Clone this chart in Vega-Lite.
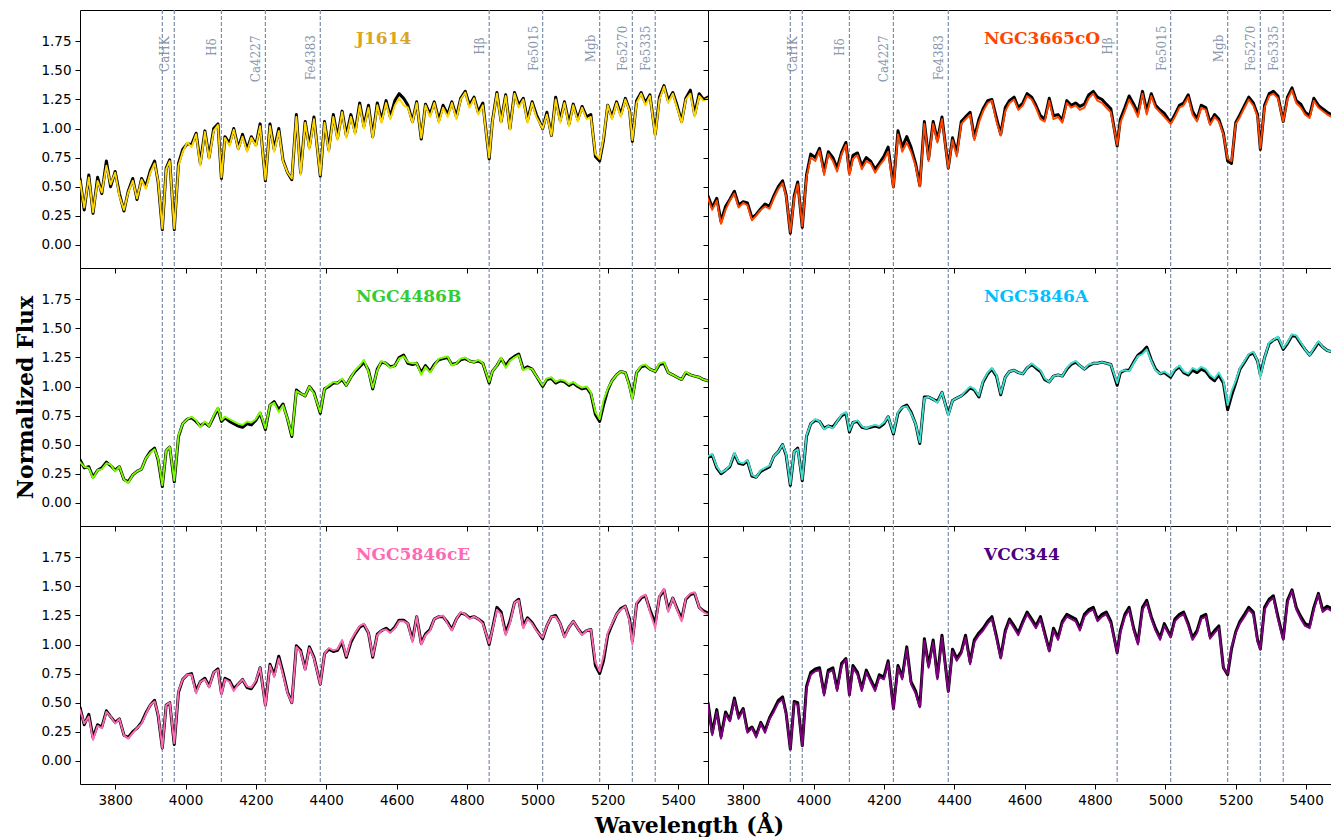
{
  "$schema": "https://vega.github.io/schema/vega-lite/v6.json",
  "background": "white",
  "padding": {"left": 13, "top": 8, "right": 0, "bottom": 0},
  "spacing": 0,
  "bounds": "flush",
  "columns": 2,
  "datasets": {
    "lines": [
      {"w": 3934, "label": "", "level": null},
      {"w": 3968, "label": "CaHK", "level": 1.64},
      {"w": 4102, "label": "Hδ", "level": 1.70},
      {"w": 4227, "label": "Ca4227", "level": 1.60},
      {"w": 4383, "label": "Fe4383", "level": 1.61},
      {"w": 4863, "label": "Hβ", "level": 1.71},
      {"w": 5015, "label": "Fe5015", "level": 1.69},
      {"w": 5177, "label": "Mgb", "level": 1.69},
      {"w": 5270, "label": "Fe5270", "level": 1.69},
      {"w": 5335, "label": "Fe5335", "level": 1.69}
    ],
    "spec": [
      {"w":3700,"j":0.55,"jb":0.57,"n":0.40,"nb":0.42,"g":0.35,"gb":0.37,"a":0.40,"ab":0.39,"e":0.44,"eb":0.46,"v":0.48,"vb":0.50},
      {"w":3712,"j":0.32,"jb":0.30,"n":0.30,"nb":0.32,"g":0.31,"gb":0.30,"a":0.42,"ab":0.41,"e":0.32,"eb":0.31,"v":0.22,"vb":0.24},
      {"w":3725,"j":0.58,"jb":0.60,"n":0.38,"nb":0.40,"g":0.30,"gb":0.31,"a":0.31,"ab":0.30,"e":0.38,"eb":0.40,"v":0.42,"vb":0.44},
      {"w":3737,"j":0.28,"jb":0.27,"n":0.18,"nb":0.20,"g":0.21,"gb":0.22,"a":0.26,"ab":0.25,"e":0.18,"eb":0.20,"v":0.19,"vb":0.21},
      {"w":3750,"j":0.55,"jb":0.58,"n":0.30,"nb":0.33,"g":0.28,"gb":0.28,"a":0.28,"ab":0.28,"e":0.30,"eb":0.31,"v":0.40,"vb":0.42},
      {"w":3762,"j":0.45,"jb":0.44,"n":0.38,"nb":0.39,"g":0.29,"gb":0.30,"a":0.32,"ab":0.31,"e":0.28,"eb":0.29,"v":0.34,"vb":0.35},
      {"w":3775,"j":0.68,"jb":0.72,"n":0.44,"nb":0.46,"g":0.34,"gb":0.35,"a":0.43,"ab":0.42,"e":0.42,"eb":0.43,"v":0.52,"vb":0.54},
      {"w":3787,"j":0.52,"jb":0.50,"n":0.32,"nb":0.34,"g":0.33,"gb":0.32,"a":0.35,"ab":0.34,"e":0.38,"eb":0.38,"v":0.36,"vb":0.38},
      {"w":3800,"j":0.62,"jb":0.63,"n":0.36,"nb":0.37,"g":0.27,"gb":0.28,"a":0.34,"ab":0.33,"e":0.32,"eb":0.33,"v":0.44,"vb":0.45},
      {"w":3812,"j":0.42,"jb":0.44,"n":0.34,"nb":0.36,"g":0.31,"gb":0.31,"a":0.37,"ab":0.36,"e":0.36,"eb":0.36,"v":0.24,"vb":0.26},
      {"w":3825,"j":0.30,"jb":0.29,"n":0.21,"nb":0.23,"g":0.20,"gb":0.20,"a":0.24,"ab":0.23,"e":0.22,"eb":0.22,"v":0.28,"vb":0.29},
      {"w":3837,"j":0.45,"jb":0.46,"n":0.25,"nb":0.26,"g":0.17,"gb":0.18,"a":0.22,"ab":0.22,"e":0.19,"eb":0.20,"v":0.20,"vb":0.22},
      {"w":3850,"j":0.55,"jb":0.57,"n":0.30,"nb":0.31,"g":0.24,"gb":0.24,"a":0.28,"ab":0.27,"e":0.24,"eb":0.25,"v":0.32,"vb":0.33},
      {"w":3862,"j":0.40,"jb":0.39,"n":0.33,"nb":0.35,"g":0.27,"gb":0.27,"a":0.30,"ab":0.29,"e":0.28,"eb":0.28,"v":0.24,"vb":0.26},
      {"w":3875,"j":0.56,"jb":0.57,"n":0.31,"nb":0.33,"g":0.29,"gb":0.29,"a":0.32,"ab":0.31,"e":0.32,"eb":0.33,"v":0.36,"vb":0.37},
      {"w":3887,"j":0.48,"jb":0.50,"n":0.40,"nb":0.42,"g":0.38,"gb":0.38,"a":0.40,"ab":0.40,"e":0.40,"eb":0.41,"v":0.42,"vb":0.44},
      {"w":3900,"j":0.62,"jb":0.64,"n":0.48,"nb":0.50,"g":0.43,"gb":0.44,"a":0.44,"ab":0.44,"e":0.48,"eb":0.48,"v":0.50,"vb":0.52},
      {"w":3912,"j":0.70,"jb":0.72,"n":0.53,"nb":0.55,"g":0.46,"gb":0.47,"a":0.50,"ab":0.50,"e":0.51,"eb":0.52,"v":0.53,"vb":0.55},
      {"w":3922,"j":0.55,"jb":0.54,"n":0.42,"nb":0.43,"g":0.38,"gb":0.37,"a":0.42,"ab":0.41,"e":0.40,"eb":0.39,"v":0.40,"vb":0.41},
      {"w":3934,"j":0.14,"jb":0.13,"n":0.11,"nb":0.10,"g":0.15,"gb":0.14,"a":0.16,"ab":0.15,"e":0.11,"eb":0.11,"v":0.10,"vb":0.10},
      {"w":3945,"j":0.65,"jb":0.66,"n":0.40,"nb":0.42,"g":0.45,"gb":0.45,"a":0.44,"ab":0.44,"e":0.48,"eb":0.48,"v":0.50,"vb":0.51},
      {"w":3955,"j":0.72,"jb":0.73,"n":0.52,"nb":0.54,"g":0.48,"gb":0.48,"a":0.46,"ab":0.47,"e":0.50,"eb":0.50,"v":0.48,"vb":0.50},
      {"w":3968,"j":0.14,"jb":0.13,"n":0.16,"nb":0.15,"g":0.19,"gb":0.18,"a":0.20,"ab":0.19,"e":0.15,"eb":0.14,"v":0.13,"vb":0.13},
      {"w":3980,"j":0.68,"jb":0.70,"n":0.58,"nb":0.60,"g":0.58,"gb":0.57,"a":0.58,"ab":0.57,"e":0.60,"eb":0.59,"v":0.62,"vb":0.64},
      {"w":3992,"j":0.80,"jb":0.82,"n":0.75,"nb":0.78,"g":0.68,"gb":0.68,"a":0.68,"ab":0.68,"e":0.70,"eb":0.70,"v":0.74,"vb":0.76},
      {"w":4005,"j":0.88,"jb":0.87,"n":0.72,"nb":0.75,"g":0.72,"gb":0.72,"a":0.72,"ab":0.71,"e":0.74,"eb":0.74,"v":0.77,"vb":0.79},
      {"w":4017,"j":0.84,"jb":0.86,"n":0.81,"nb":0.83,"g":0.74,"gb":0.73,"a":0.70,"ab":0.70,"e":0.74,"eb":0.75,"v":0.78,"vb":0.80},
      {"w":4030,"j":0.95,"jb":0.96,"n":0.60,"nb":0.63,"g":0.71,"gb":0.70,"a":0.63,"ab":0.64,"e":0.58,"eb":0.60,"v":0.56,"vb":0.58},
      {"w":4042,"j":0.68,"jb":0.70,"n":0.78,"nb":0.80,"g":0.65,"gb":0.66,"a":0.66,"ab":0.66,"e":0.68,"eb":0.68,"v":0.76,"vb":0.78},
      {"w":4055,"j":0.97,"jb":0.98,"n":0.72,"nb":0.75,"g":0.70,"gb":0.69,"a":0.64,"ab":0.65,"e":0.70,"eb":0.71,"v":0.78,"vb":0.80},
      {"w":4067,"j":0.74,"jb":0.75,"n":0.63,"nb":0.66,"g":0.66,"gb":0.66,"a":0.70,"ab":0.70,"e":0.63,"eb":0.64,"v":0.60,"vb":0.62},
      {"w":4080,"j":0.98,"jb":1.00,"n":0.78,"nb":0.80,"g":0.75,"gb":0.74,"a":0.76,"ab":0.75,"e":0.76,"eb":0.76,"v":0.82,"vb":0.84},
      {"w":4092,"j":1.03,"jb":1.04,"n":0.86,"nb":0.88,"g":0.82,"gb":0.81,"a":0.78,"ab":0.77,"e":0.78,"eb":0.79,"v":0.87,"vb":0.88},
      {"w":4102,"j":0.58,"jb":0.57,"n":0.60,"nb":0.62,"g":0.71,"gb":0.70,"a":0.62,"ab":0.61,"e":0.57,"eb":0.58,"v":0.56,"vb":0.57},
      {"w":4112,"j":0.92,"jb":0.93,"n":0.74,"nb":0.77,"g":0.74,"gb":0.73,"a":0.69,"ab":0.69,"e":0.70,"eb":0.71,"v":0.80,"vb":0.82},
      {"w":4125,"j":0.85,"jb":0.87,"n":0.77,"nb":0.79,"g":0.72,"gb":0.70,"a":0.71,"ab":0.70,"e":0.68,"eb":0.69,"v":0.74,"vb":0.76},
      {"w":4137,"j":0.99,"jb":1.00,"n":0.65,"nb":0.68,"g":0.70,"gb":0.68,"a":0.66,"ab":0.65,"e":0.60,"eb":0.62,"v":0.60,"vb":0.62},
      {"w":4150,"j":0.82,"jb":0.83,"n":0.72,"nb":0.75,"g":0.68,"gb":0.66,"a":0.64,"ab":0.64,"e":0.66,"eb":0.66,"v":0.76,"vb":0.78},
      {"w":4162,"j":0.93,"jb":0.95,"n":0.70,"nb":0.72,"g":0.67,"gb":0.65,"a":0.66,"ab":0.65,"e":0.70,"eb":0.70,"v":0.68,"vb":0.70},
      {"w":4175,"j":0.80,"jb":0.82,"n":0.62,"nb":0.65,"g":0.70,"gb":0.68,"a":0.67,"ab":0.66,"e":0.64,"eb":0.63,"v":0.60,"vb":0.62},
      {"w":4187,"j":0.92,"jb":0.93,"n":0.68,"nb":0.70,"g":0.69,"gb":0.67,"a":0.66,"ab":0.65,"e":0.63,"eb":0.62,"v":0.72,"vb":0.74},
      {"w":4200,"j":0.85,"jb":0.86,"n":0.73,"nb":0.76,"g":0.72,"gb":0.71,"a":0.69,"ab":0.68,"e":0.69,"eb":0.68,"v":0.70,"vb":0.72},
      {"w":4212,"j":1.02,"jb":1.04,"n":0.80,"nb":0.84,"g":0.78,"gb":0.77,"a":0.74,"ab":0.74,"e":0.80,"eb":0.80,"v":0.84,"vb":0.86},
      {"w":4227,"j":0.56,"jb":0.55,"n":0.49,"nb":0.50,"g":0.64,"gb":0.63,"a":0.60,"ab":0.59,"e":0.47,"eb":0.48,"v":0.44,"vb":0.45},
      {"w":4240,"j":1.02,"jb":1.04,"n":0.95,"nb":0.98,"g":0.84,"gb":0.84,"a":0.78,"ab":0.77,"e":0.82,"eb":0.83,"v":0.80,"vb":0.82},
      {"w":4252,"j":0.80,"jb":0.82,"n":0.80,"nb":0.84,"g":0.86,"gb":0.87,"a":0.82,"ab":0.82,"e":0.72,"eb":0.74,"v":0.70,"vb":0.72},
      {"w":4265,"j":0.98,"jb":1.00,"n":0.88,"nb":0.93,"g":0.78,"gb":0.80,"a":0.83,"ab":0.84,"e":0.88,"eb":0.90,"v":0.96,"vb":0.98},
      {"w":4277,"j":0.72,"jb":0.73,"n":0.80,"nb":0.84,"g":0.84,"gb":0.85,"a":0.77,"ab":0.78,"e":0.74,"eb":0.76,"v":0.66,"vb":0.68},
      {"w":4290,"j":0.62,"jb":0.62,"n":0.68,"nb":0.70,"g":0.72,"gb":0.72,"a":0.68,"ab":0.68,"e":0.58,"eb":0.59,"v":0.58,"vb":0.60},
      {"w":4302,"j":0.57,"jb":0.56,"n":0.50,"nb":0.51,"g":0.58,"gb":0.57,"a":0.52,"ab":0.51,"e":0.50,"eb":0.50,"v":0.46,"vb":0.47},
      {"w":4315,"j":1.10,"jb":1.12,"n":1.04,"nb":1.06,"g":0.96,"gb":0.97,"a":0.90,"ab":0.91,"e":0.98,"eb":0.99,"v":1.03,"vb":1.05},
      {"w":4327,"j":0.60,"jb":0.62,"n":0.72,"nb":0.74,"g":0.94,"gb":0.94,"a":0.91,"ab":0.91,"e":0.94,"eb":0.95,"v":0.80,"vb":0.82},
      {"w":4340,"j":1.05,"jb":1.06,"n":1.04,"nb":1.06,"g":0.92,"gb":0.92,"a":0.89,"ab":0.89,"e":0.78,"eb":0.79,"v":1.02,"vb":1.04},
      {"w":4352,"j":0.82,"jb":0.84,"n":0.88,"nb":0.90,"g":1.00,"gb":1.00,"a":0.86,"ab":0.87,"e":0.97,"eb":0.98,"v":0.70,"vb":0.72},
      {"w":4365,"j":1.08,"jb":1.10,"n":1.08,"nb":1.10,"g":0.94,"gb":0.95,"a":0.95,"ab":0.95,"e":0.88,"eb":0.89,"v":1.06,"vb":1.08},
      {"w":4383,"j":0.60,"jb":0.59,"n":0.66,"nb":0.66,"g":0.78,"gb":0.77,"a":0.75,"ab":0.76,"e":0.66,"eb":0.66,"v":0.59,"vb":0.60},
      {"w":4395,"j":1.05,"jb":1.06,"n":0.90,"nb":0.92,"g":0.98,"gb":0.98,"a":0.88,"ab":0.88,"e":0.92,"eb":0.92,"v":0.94,"vb":0.96},
      {"w":4407,"j":0.80,"jb":0.82,"n":0.76,"nb":0.79,"g":1.01,"gb":1.00,"a":0.90,"ab":0.90,"e":0.97,"eb":0.96,"v":0.86,"vb":0.88},
      {"w":4420,"j":1.10,"jb":1.12,"n":1.04,"nb":1.06,"g":1.04,"gb":1.03,"a":0.92,"ab":0.92,"e":0.95,"eb":0.94,"v":0.92,"vb":0.94},
      {"w":4432,"j":0.90,"jb":0.92,"n":1.08,"nb":1.10,"g":1.03,"gb":1.03,"a":0.96,"ab":0.95,"e":0.96,"eb":0.95,"v":1.06,"vb":1.08},
      {"w":4445,"j":1.14,"jb":1.15,"n":1.12,"nb":1.14,"g":1.07,"gb":1.06,"a":1.00,"ab":0.99,"e":1.04,"eb":1.02,"v":0.83,"vb":0.85},
      {"w":4457,"j":0.92,"jb":0.94,"n":0.90,"nb":0.92,"g":1.01,"gb":1.01,"a":0.98,"ab":0.97,"e":0.90,"eb":0.89,"v":1.02,"vb":1.04},
      {"w":4470,"j":1.10,"jb":1.12,"n":1.05,"nb":1.08,"g":1.08,"gb":1.08,"a":0.92,"ab":0.91,"e":1.04,"eb":1.02,"v":1.08,"vb":1.10},
      {"w":4482,"j":0.95,"jb":0.97,"n":1.15,"nb":1.17,"g":1.14,"gb":1.13,"a":1.05,"ab":1.04,"e":1.10,"eb":1.09,"v":1.12,"vb":1.14},
      {"w":4495,"j":1.20,"jb":1.22,"n":1.22,"nb":1.24,"g":1.18,"gb":1.17,"a":1.12,"ab":1.11,"e":1.16,"eb":1.15,"v":1.18,"vb":1.20},
      {"w":4507,"j":1.00,"jb":1.02,"n":1.24,"nb":1.25,"g":1.23,"gb":1.21,"a":1.16,"ab":1.15,"e":1.18,"eb":1.17,"v":1.22,"vb":1.24},
      {"w":4520,"j":1.18,"jb":1.20,"n":1.06,"nb":1.09,"g":1.13,"gb":1.14,"a":1.10,"ab":1.09,"e":1.10,"eb":1.10,"v":1.05,"vb":1.07},
      {"w":4532,"j":0.92,"jb":0.93,"n":0.94,"nb":0.95,"g":0.99,"gb":0.98,"a":0.94,"ab":0.93,"e":0.90,"eb":0.89,"v":0.88,"vb":0.89},
      {"w":4545,"j":1.20,"jb":1.22,"n":1.15,"nb":1.18,"g":1.14,"gb":1.15,"a":1.08,"ab":1.08,"e":1.08,"eb":1.09,"v":1.10,"vb":1.12},
      {"w":4557,"j":1.05,"jb":1.07,"n":1.22,"nb":1.24,"g":1.22,"gb":1.21,"a":1.13,"ab":1.13,"e":1.12,"eb":1.12,"v":1.20,"vb":1.22},
      {"w":4570,"j":1.22,"jb":1.24,"n":1.25,"nb":1.27,"g":1.20,"gb":1.20,"a":1.14,"ab":1.14,"e":1.13,"eb":1.14,"v":1.14,"vb":1.16},
      {"w":4582,"j":1.08,"jb":1.10,"n":1.16,"nb":1.18,"g":1.16,"gb":1.17,"a":1.12,"ab":1.12,"e":1.10,"eb":1.11,"v":1.08,"vb":1.10},
      {"w":4595,"j":1.20,"jb":1.24,"n":1.20,"nb":1.22,"g":1.18,"gb":1.18,"a":1.11,"ab":1.11,"e":1.14,"eb":1.15,"v":1.18,"vb":1.20},
      {"w":4607,"j":1.26,"jb":1.30,"n":1.28,"nb":1.30,"g":1.24,"gb":1.25,"a":1.16,"ab":1.16,"e":1.20,"eb":1.21,"v":1.26,"vb":1.28},
      {"w":4620,"j":1.20,"jb":1.26,"n":1.25,"nb":1.27,"g":1.26,"gb":1.27,"a":1.20,"ab":1.19,"e":1.20,"eb":1.21,"v":1.20,"vb":1.22},
      {"w":4632,"j":1.18,"jb":1.20,"n":1.18,"nb":1.20,"g":1.21,"gb":1.20,"a":1.17,"ab":1.16,"e":1.18,"eb":1.18,"v":1.14,"vb":1.16},
      {"w":4645,"j":1.05,"jb":1.06,"n":1.08,"nb":1.11,"g":1.20,"gb":1.19,"a":1.14,"ab":1.13,"e":1.02,"eb":1.04,"v":1.22,"vb":1.24},
      {"w":4657,"j":1.22,"jb":1.23,"n":1.06,"nb":1.08,"g":1.20,"gb":1.20,"a":1.07,"ab":1.06,"e":1.24,"eb":1.24,"v":1.08,"vb":1.10},
      {"w":4670,"j":0.92,"jb":0.91,"n":1.24,"nb":1.26,"g":1.10,"gb":1.12,"a":1.04,"ab":1.04,"e":1.00,"eb":1.01,"v":0.94,"vb":0.95},
      {"w":4682,"j":1.20,"jb":1.21,"n":1.08,"nb":1.11,"g":1.17,"gb":1.18,"a":1.09,"ab":1.09,"e":1.08,"eb":1.09,"v":1.12,"vb":1.14},
      {"w":4695,"j":1.10,"jb":1.12,"n":1.10,"nb":1.12,"g":1.12,"gb":1.13,"a":1.10,"ab":1.10,"e":1.12,"eb":1.13,"v":1.04,"vb":1.06},
      {"w":4707,"j":1.22,"jb":1.23,"n":1.05,"nb":1.07,"g":1.18,"gb":1.19,"a":1.09,"ab":1.09,"e":1.22,"eb":1.22,"v":1.18,"vb":1.20},
      {"w":4720,"j":1.05,"jb":1.07,"n":1.22,"nb":1.24,"g":1.24,"gb":1.23,"a":1.16,"ab":1.15,"e":1.24,"eb":1.24,"v":1.24,"vb":1.26},
      {"w":4732,"j":1.18,"jb":1.20,"n":1.18,"nb":1.20,"g":1.25,"gb":1.24,"a":1.20,"ab":1.19,"e":1.25,"eb":1.24,"v":1.22,"vb":1.24},
      {"w":4745,"j":1.10,"jb":1.12,"n":1.20,"nb":1.22,"g":1.26,"gb":1.25,"a":1.22,"ab":1.21,"e":1.18,"eb":1.19,"v":1.20,"vb":1.22},
      {"w":4757,"j":1.22,"jb":1.23,"n":1.16,"nb":1.19,"g":1.18,"gb":1.19,"a":1.18,"ab":1.18,"e":1.12,"eb":1.13,"v":1.12,"vb":1.14},
      {"w":4770,"j":1.08,"jb":1.10,"n":1.18,"nb":1.21,"g":1.20,"gb":1.20,"a":1.15,"ab":1.15,"e":1.22,"eb":1.22,"v":1.24,"vb":1.26},
      {"w":4782,"j":1.25,"jb":1.26,"n":1.26,"nb":1.29,"g":1.24,"gb":1.23,"a":1.19,"ab":1.18,"e":1.28,"eb":1.27,"v":1.28,"vb":1.30},
      {"w":4795,"j":1.31,"jb":1.32,"n":1.30,"nb":1.32,"g":1.25,"gb":1.24,"a":1.20,"ab":1.20,"e":1.26,"eb":1.26,"v":1.30,"vb":1.32},
      {"w":4807,"j":1.18,"jb":1.20,"n":1.24,"nb":1.27,"g":1.22,"gb":1.22,"a":1.20,"ab":1.20,"e":1.22,"eb":1.23,"v":1.20,"vb":1.22},
      {"w":4820,"j":1.26,"jb":1.27,"n":1.22,"nb":1.25,"g":1.21,"gb":1.21,"a":1.21,"ab":1.21,"e":1.24,"eb":1.24,"v":1.24,"vb":1.26},
      {"w":4832,"j":1.12,"jb":1.14,"n":1.18,"nb":1.21,"g":1.23,"gb":1.22,"a":1.20,"ab":1.20,"e":1.22,"eb":1.22,"v":1.26,"vb":1.28},
      {"w":4845,"j":1.20,"jb":1.22,"n":1.14,"nb":1.17,"g":1.20,"gb":1.20,"a":1.19,"ab":1.19,"e":1.18,"eb":1.19,"v":1.18,"vb":1.20},
      {"w":4863,"j":0.75,"jb":0.74,"n":0.86,"nb":0.85,"g":1.04,"gb":1.03,"a":1.03,"ab":1.01,"e":1.01,"eb":1.00,"v":0.93,"vb":0.93},
      {"w":4872,"j":1.05,"jb":1.06,"n":1.05,"nb":1.08,"g":1.13,"gb":1.13,"a":1.13,"ab":1.12,"e":1.12,"eb":1.13,"v":1.10,"vb":1.12},
      {"w":4885,"j":1.30,"jb":1.31,"n":1.15,"nb":1.18,"g":1.18,"gb":1.18,"a":1.14,"ab":1.14,"e":1.30,"eb":1.32,"v":1.24,"vb":1.26},
      {"w":4897,"j":1.05,"jb":1.06,"n":1.25,"nb":1.28,"g":1.25,"gb":1.24,"a":1.13,"ab":1.14,"e":1.26,"eb":1.28,"v":1.30,"vb":1.32},
      {"w":4910,"j":1.28,"jb":1.29,"n":1.18,"nb":1.21,"g":1.16,"gb":1.18,"a":1.20,"ab":1.21,"e":1.08,"eb":1.10,"v":1.12,"vb":1.14},
      {"w":4922,"j":0.99,"jb":1.00,"n":1.10,"nb":1.13,"g":1.22,"gb":1.23,"a":1.26,"ab":1.27,"e":1.18,"eb":1.20,"v":1.00,"vb":1.02},
      {"w":4935,"j":1.30,"jb":1.31,"n":1.30,"nb":1.32,"g":1.25,"gb":1.26,"a":1.28,"ab":1.30,"e":1.36,"eb":1.36,"v":1.30,"vb":1.32},
      {"w":4947,"j":1.18,"jb":1.20,"n":1.12,"nb":1.15,"g":1.27,"gb":1.28,"a":1.32,"ab":1.34,"e":1.38,"eb":1.39,"v":1.36,"vb":1.38},
      {"w":4960,"j":1.25,"jb":1.26,"n":1.28,"nb":1.30,"g":1.14,"gb":1.15,"a":1.22,"ab":1.23,"e":1.14,"eb":1.16,"v":1.22,"vb":1.24},
      {"w":4972,"j":1.05,"jb":1.07,"n":1.18,"nb":1.20,"g":1.16,"gb":1.17,"a":1.14,"ab":1.15,"e":1.22,"eb":1.23,"v":1.12,"vb":1.14},
      {"w":4985,"j":1.22,"jb":1.23,"n":1.14,"nb":1.16,"g":1.15,"gb":1.15,"a":1.11,"ab":1.11,"e":1.18,"eb":1.19,"v":1.04,"vb":1.06},
      {"w":4997,"j":1.10,"jb":1.12,"n":1.10,"nb":1.13,"g":1.09,"gb":1.09,"a":1.13,"ab":1.12,"e":1.12,"eb":1.13,"v":1.16,"vb":1.18},
      {"w":5015,"j":1.00,"jb":1.00,"n":1.04,"nb":1.05,"g":1.01,"gb":1.00,"a":1.09,"ab":1.08,"e":1.06,"eb":1.05,"v":1.06,"vb":1.07},
      {"w":5027,"j":1.12,"jb":1.14,"n":1.10,"nb":1.12,"g":1.07,"gb":1.06,"a":1.15,"ab":1.14,"e":1.16,"eb":1.16,"v":1.20,"vb":1.22},
      {"w":5040,"j":0.94,"jb":0.94,"n":1.18,"nb":1.20,"g":1.08,"gb":1.07,"a":1.18,"ab":1.17,"e":1.24,"eb":1.24,"v":1.24,"vb":1.26},
      {"w":5052,"j":1.25,"jb":1.27,"n":1.20,"nb":1.22,"g":1.04,"gb":1.03,"a":1.13,"ab":1.12,"e":1.24,"eb":1.25,"v":1.26,"vb":1.28},
      {"w":5065,"j":1.05,"jb":1.07,"n":1.27,"nb":1.29,"g":1.06,"gb":1.05,"a":1.11,"ab":1.10,"e":1.18,"eb":1.18,"v":1.16,"vb":1.18},
      {"w":5077,"j":1.22,"jb":1.23,"n":1.12,"nb":1.15,"g":1.05,"gb":1.04,"a":1.16,"ab":1.14,"e":1.06,"eb":1.07,"v":1.04,"vb":1.06},
      {"w":5090,"j":1.02,"jb":1.04,"n":1.06,"nb":1.08,"g":1.02,"gb":1.01,"a":1.14,"ab":1.12,"e":1.15,"eb":1.15,"v":1.10,"vb":1.12},
      {"w":5102,"j":1.20,"jb":1.21,"n":1.18,"nb":1.20,"g":1.04,"gb":1.03,"a":1.17,"ab":1.15,"e":1.20,"eb":1.20,"v":1.22,"vb":1.24},
      {"w":5115,"j":1.06,"jb":1.08,"n":1.16,"nb":1.18,"g":1.01,"gb":1.00,"a":1.15,"ab":1.13,"e":1.14,"eb":1.14,"v":1.24,"vb":1.26},
      {"w":5127,"j":1.18,"jb":1.19,"n":1.03,"nb":1.05,"g":0.99,"gb":0.98,"a":1.10,"ab":1.08,"e":1.08,"eb":1.09,"v":1.05,"vb":1.07},
      {"w":5140,"j":1.08,"jb":1.10,"n":1.10,"nb":1.12,"g":1.00,"gb":0.99,"a":1.07,"ab":1.05,"e":1.12,"eb":1.12,"v":1.10,"vb":1.12},
      {"w":5152,"j":1.10,"jb":1.12,"n":1.06,"nb":1.08,"g":0.95,"gb":0.94,"a":1.12,"ab":1.10,"e":1.13,"eb":1.13,"v":1.14,"vb":1.16},
      {"w":5165,"j":0.78,"jb":0.76,"n":0.95,"nb":0.96,"g":0.78,"gb":0.76,"a":1.05,"ab":1.03,"e":0.85,"eb":0.82,"v":0.80,"vb":0.80},
      {"w":5177,"j":0.74,"jb":0.72,"n":0.74,"nb":0.72,"g":0.72,"gb":0.70,"a":0.84,"ab":0.80,"e":0.77,"eb":0.75,"v":0.75,"vb":0.74},
      {"w":5188,"j":0.92,"jb":0.90,"n":0.72,"nb":0.70,"g":0.88,"gb":0.84,"a":0.96,"ab":0.92,"e":0.90,"eb":0.86,"v":0.98,"vb":0.96},
      {"w":5200,"j":1.20,"jb":1.20,"n":1.04,"nb":1.05,"g":0.98,"gb":0.97,"a":1.05,"ab":1.03,"e":1.10,"eb":1.08,"v":1.10,"vb":1.11},
      {"w":5212,"j":1.08,"jb":1.10,"n":1.10,"nb":1.12,"g":1.05,"gb":1.05,"a":1.16,"ab":1.15,"e":1.18,"eb":1.17,"v":1.18,"vb":1.20},
      {"w":5225,"j":1.22,"jb":1.23,"n":1.18,"nb":1.20,"g":1.10,"gb":1.10,"a":1.22,"ab":1.21,"e":1.26,"eb":1.26,"v":1.24,"vb":1.26},
      {"w":5237,"j":1.10,"jb":1.12,"n":1.25,"nb":1.27,"g":1.13,"gb":1.13,"a":1.28,"ab":1.27,"e":1.30,"eb":1.31,"v":1.30,"vb":1.32},
      {"w":5250,"j":1.25,"jb":1.26,"n":1.20,"nb":1.22,"g":1.12,"gb":1.12,"a":1.30,"ab":1.29,"e":1.33,"eb":1.33,"v":1.26,"vb":1.28},
      {"w":5262,"j":1.15,"jb":1.16,"n":1.10,"nb":1.12,"g":1.00,"gb":1.01,"a":1.22,"ab":1.22,"e":1.20,"eb":1.22,"v":1.02,"vb":1.04},
      {"w":5270,"j":0.90,"jb":0.89,"n":0.83,"nb":0.82,"g":0.89,"gb":0.90,"a":1.08,"ab":1.10,"e":1.00,"eb":1.03,"v":0.96,"vb":0.96},
      {"w":5282,"j":1.22,"jb":1.24,"n":1.18,"nb":1.20,"g":1.12,"gb":1.12,"a":1.25,"ab":1.25,"e":1.36,"eb":1.35,"v":1.30,"vb":1.32},
      {"w":5295,"j":1.30,"jb":1.31,"n":1.28,"nb":1.30,"g":1.18,"gb":1.17,"a":1.38,"ab":1.37,"e":1.41,"eb":1.40,"v":1.37,"vb":1.39},
      {"w":5307,"j":1.20,"jb":1.22,"n":1.30,"nb":1.32,"g":1.19,"gb":1.18,"a":1.40,"ab":1.40,"e":1.43,"eb":1.42,"v":1.40,"vb":1.42},
      {"w":5320,"j":1.28,"jb":1.29,"n":1.26,"nb":1.28,"g":1.15,"gb":1.15,"a":1.43,"ab":1.42,"e":1.28,"eb":1.30,"v":1.22,"vb":1.24},
      {"w":5335,"j":0.94,"jb":0.95,"n":1.06,"nb":1.06,"g":1.13,"gb":1.13,"a":1.33,"ab":1.32,"e":1.14,"eb":1.18,"v":1.04,"vb":1.05},
      {"w":5347,"j":1.25,"jb":1.27,"n":1.25,"nb":1.27,"g":1.20,"gb":1.19,"a":1.38,"ab":1.37,"e":1.42,"eb":1.41,"v":1.36,"vb":1.38},
      {"w":5360,"j":1.36,"jb":1.37,"n":1.33,"nb":1.35,"g":1.21,"gb":1.20,"a":1.45,"ab":1.44,"e":1.48,"eb":1.47,"v":1.46,"vb":1.47},
      {"w":5372,"j":1.22,"jb":1.24,"n":1.22,"nb":1.24,"g":1.12,"gb":1.12,"a":1.44,"ab":1.43,"e":1.28,"eb":1.30,"v":1.30,"vb":1.32},
      {"w":5385,"j":1.30,"jb":1.31,"n":1.18,"nb":1.21,"g":1.10,"gb":1.10,"a":1.38,"ab":1.37,"e":1.40,"eb":1.40,"v":1.22,"vb":1.24},
      {"w":5397,"j":1.18,"jb":1.20,"n":1.12,"nb":1.14,"g":1.08,"gb":1.08,"a":1.32,"ab":1.32,"e":1.30,"eb":1.31,"v":1.16,"vb":1.18},
      {"w":5410,"j":1.05,"jb":1.06,"n":1.09,"nb":1.11,"g":1.06,"gb":1.06,"a":1.27,"ab":1.27,"e":1.20,"eb":1.22,"v":1.14,"vb":1.16},
      {"w":5422,"j":1.25,"jb":1.26,"n":1.24,"nb":1.26,"g":1.13,"gb":1.12,"a":1.33,"ab":1.32,"e":1.40,"eb":1.39,"v":1.30,"vb":1.32},
      {"w":5435,"j":1.30,"jb":1.33,"n":1.18,"nb":1.20,"g":1.10,"gb":1.10,"a":1.39,"ab":1.38,"e":1.44,"eb":1.43,"v":1.43,"vb":1.44},
      {"w":5447,"j":1.10,"jb":1.12,"n":1.15,"nb":1.17,"g":1.09,"gb":1.09,"a":1.34,"ab":1.34,"e":1.45,"eb":1.44,"v":1.28,"vb":1.30},
      {"w":5460,"j":1.28,"jb":1.30,"n":1.12,"nb":1.14,"g":1.08,"gb":1.08,"a":1.31,"ab":1.31,"e":1.32,"eb":1.32,"v":1.31,"vb":1.33},
      {"w":5472,"j":1.24,"jb":1.25,"n":1.10,"nb":1.12,"g":1.06,"gb":1.06,"a":1.30,"ab":1.30,"e":1.28,"eb":1.29,"v":1.29,"vb":1.31},
      {"w":5485,"j":1.26,"jb":1.27,"n":1.08,"nb":1.10,"g":1.05,"gb":1.05,"a":1.29,"ab":1.29,"e":1.26,"eb":1.27,"v":1.30,"vb":1.32}
    ]
  },
  "concat": [
    {
      "width": 628, "height": 258,
      "title": {"text": "J1614", "color": "#DAA520"},
      "encoding": {"x": {"field": "w", "type": "quantitative", "scale": {"domain": [3700, 5485], "nice": false, "zero": false}, "axis": {"values": [3800, 4000, 4200, 4400, 4600, 4800, 5000, 5200, 5400], "labels": false, "title": null}}},
      "layer": [
        {"data": {"name": "lines"}, "mark": {"type": "rule", "color": "#7d8fa8", "strokeWidth": 1.2, "strokeDash": [4, 2]}, "encoding": {}},
        {"data": {"name": "lines"}, "transform": [{"filter": "isValid(datum.level)"}], "mark": {"type": "text", "angle": 270, "align": "center", "baseline": "bottom", "dy": -2, "font": "DejaVu Serif", "fontSize": 12, "color": "#8896ab"}, "encoding": {"y": {"field": "level", "type": "quantitative", "scale": {"domain": [-0.2, 2.02], "nice": false, "zero": false}, "axis": {"values": [0, 0.25, 0.5, 0.75, 1, 1.25, 1.5, 1.75], "format": ".2f", "title": null}}, "text": {"field": "label"}}},
        {"data": {"name": "spec"}, "mark": {"type": "line", "color": "black", "strokeWidth": 3, "clip": true}, "encoding": {"y": {"field": "jb", "type": "quantitative", "scale": {"domain": [-0.2, 2.02], "nice": false, "zero": false}, "axis": {"values": [0, 0.25, 0.5, 0.75, 1, 1.25, 1.5, 1.75], "format": ".2f", "title": null}}}},
        {"data": {"name": "spec"}, "mark": {"type": "line", "color": "#FFD700", "strokeWidth": 1.9, "clip": true}, "encoding": {"y": {"field": "j", "type": "quantitative", "scale": {"domain": [-0.2, 2.02], "nice": false, "zero": false}, "axis": {"values": [0, 0.25, 0.5, 0.75, 1, 1.25, 1.5, 1.75], "format": ".2f", "title": null}}}}
      ]
    },
    {
      "width": 628, "height": 258,
      "title": {"text": "NGC3665cO", "color": "#FF4500"},
      "encoding": {"x": {"field": "w", "type": "quantitative", "scale": {"domain": [3700, 5485], "nice": false, "zero": false}, "axis": {"values": [3800, 4000, 4200, 4400, 4600, 4800, 5000, 5200, 5400], "labels": false, "title": null}}},
      "layer": [
        {"data": {"name": "lines"}, "mark": {"type": "rule", "color": "#7d8fa8", "strokeWidth": 1.2, "strokeDash": [4, 2]}, "encoding": {}},
        {"data": {"name": "lines"}, "transform": [{"filter": "isValid(datum.level)"}], "mark": {"type": "text", "angle": 270, "align": "center", "baseline": "bottom", "dy": -2, "font": "DejaVu Serif", "fontSize": 12, "color": "#8896ab"}, "encoding": {"y": {"field": "level", "type": "quantitative", "scale": {"domain": [-0.2, 2.02], "nice": false, "zero": false}, "axis": {"values": [0, 0.25, 0.5, 0.75, 1, 1.25, 1.5, 1.75], "labels": false, "title": null}}, "text": {"field": "label"}}},
        {"data": {"name": "spec"}, "mark": {"type": "line", "color": "black", "strokeWidth": 3, "clip": true}, "encoding": {"y": {"field": "nb", "type": "quantitative", "scale": {"domain": [-0.2, 2.02], "nice": false, "zero": false}, "axis": {"values": [0, 0.25, 0.5, 0.75, 1, 1.25, 1.5, 1.75], "labels": false, "title": null}}}},
        {"data": {"name": "spec"}, "mark": {"type": "line", "color": "#FF4500", "strokeWidth": 1.9, "clip": true}, "encoding": {"y": {"field": "n", "type": "quantitative", "scale": {"domain": [-0.2, 2.02], "nice": false, "zero": false}, "axis": {"values": [0, 0.25, 0.5, 0.75, 1, 1.25, 1.5, 1.75], "labels": false, "title": null}}}}
      ]
    },
    {
      "width": 628, "height": 258,
      "title": {"text": "NGC4486B", "color": "#32CD32"},
      "encoding": {"x": {"field": "w", "type": "quantitative", "scale": {"domain": [3700, 5485], "nice": false, "zero": false}, "axis": {"values": [3800, 4000, 4200, 4400, 4600, 4800, 5000, 5200, 5400], "labels": false, "title": null}}},
      "layer": [
        {"data": {"name": "lines"}, "mark": {"type": "rule", "color": "#7d8fa8", "strokeWidth": 1.2, "strokeDash": [4, 2]}, "encoding": {}},
        {"data": {"name": "spec"}, "mark": {"type": "line", "color": "black", "strokeWidth": 3, "clip": true}, "encoding": {"y": {"field": "gb", "type": "quantitative", "scale": {"domain": [-0.2, 2.02], "nice": false, "zero": false}, "axis": {"values": [0, 0.25, 0.5, 0.75, 1, 1.25, 1.5, 1.75], "format": ".2f", "title": "Normalized Flux", "titleX": -48, "titleY": 129, "titleAngle": 270, "titleAlign": "center", "titleBaseline": "alphabetic"}}}},
        {"data": {"name": "spec"}, "mark": {"type": "line", "color": "#7CFC00", "strokeWidth": 1.9, "clip": true}, "encoding": {"y": {"field": "g", "type": "quantitative", "scale": {"domain": [-0.2, 2.02], "nice": false, "zero": false}, "axis": {"values": [0, 0.25, 0.5, 0.75, 1, 1.25, 1.5, 1.75], "format": ".2f", "title": "Normalized Flux", "titleX": -48, "titleY": 129, "titleAngle": 270, "titleAlign": "center", "titleBaseline": "alphabetic"}}}}
      ]
    },
    {
      "width": 628, "height": 258,
      "title": {"text": "NGC5846A", "color": "#00BFFF"},
      "encoding": {"x": {"field": "w", "type": "quantitative", "scale": {"domain": [3700, 5485], "nice": false, "zero": false}, "axis": {"values": [3800, 4000, 4200, 4400, 4600, 4800, 5000, 5200, 5400], "labels": false, "title": null}}},
      "layer": [
        {"data": {"name": "lines"}, "mark": {"type": "rule", "color": "#7d8fa8", "strokeWidth": 1.2, "strokeDash": [4, 2]}, "encoding": {}},
        {"data": {"name": "spec"}, "mark": {"type": "line", "color": "black", "strokeWidth": 3, "clip": true}, "encoding": {"y": {"field": "ab", "type": "quantitative", "scale": {"domain": [-0.2, 2.02], "nice": false, "zero": false}, "axis": {"values": [0, 0.25, 0.5, 0.75, 1, 1.25, 1.5, 1.75], "labels": false, "title": null}}}},
        {"data": {"name": "spec"}, "mark": {"type": "line", "color": "#40E0D0", "strokeWidth": 1.9, "clip": true}, "encoding": {"y": {"field": "a", "type": "quantitative", "scale": {"domain": [-0.2, 2.02], "nice": false, "zero": false}, "axis": {"values": [0, 0.25, 0.5, 0.75, 1, 1.25, 1.5, 1.75], "labels": false, "title": null}}}}
      ]
    },
    {
      "width": 628, "height": 258,
      "title": {"text": "NGC5846cE", "color": "#FF69B4"},
      "encoding": {"x": {"field": "w", "type": "quantitative", "scale": {"domain": [3700, 5485], "nice": false, "zero": false}, "axis": {"values": [3800, 4000, 4200, 4400, 4600, 4800, 5000, 5200, 5400], "format": "d", "title": "Wavelength (Å)", "titleX": 609, "titleY": 48, "titleAlign": "center", "titleBaseline": "alphabetic"}}},
      "layer": [
        {"data": {"name": "lines"}, "mark": {"type": "rule", "color": "#7d8fa8", "strokeWidth": 1.2, "strokeDash": [4, 2]}, "encoding": {}},
        {"data": {"name": "spec"}, "mark": {"type": "line", "color": "black", "strokeWidth": 3, "clip": true}, "encoding": {"y": {"field": "eb", "type": "quantitative", "scale": {"domain": [-0.2, 2.02], "nice": false, "zero": false}, "axis": {"values": [0, 0.25, 0.5, 0.75, 1, 1.25, 1.5, 1.75], "format": ".2f", "title": null}}}},
        {"data": {"name": "spec"}, "mark": {"type": "line", "color": "#FF69B4", "strokeWidth": 1.9, "clip": true}, "encoding": {"y": {"field": "e", "type": "quantitative", "scale": {"domain": [-0.2, 2.02], "nice": false, "zero": false}, "axis": {"values": [0, 0.25, 0.5, 0.75, 1, 1.25, 1.5, 1.75], "format": ".2f", "title": null}}}}
      ]
    },
    {
      "width": 628, "height": 258,
      "title": {"text": "VCC344", "color": "#4B0082"},
      "encoding": {"x": {"field": "w", "type": "quantitative", "scale": {"domain": [3700, 5485], "nice": false, "zero": false}, "axis": {"values": [3800, 4000, 4200, 4400, 4600, 4800, 5000, 5200, 5400], "format": "d", "title": null}}},
      "layer": [
        {"data": {"name": "lines"}, "mark": {"type": "rule", "color": "#7d8fa8", "strokeWidth": 1.2, "strokeDash": [4, 2]}, "encoding": {}},
        {"data": {"name": "spec"}, "mark": {"type": "line", "color": "black", "strokeWidth": 3, "clip": true}, "encoding": {"y": {"field": "vb", "type": "quantitative", "scale": {"domain": [-0.2, 2.02], "nice": false, "zero": false}, "axis": {"values": [0, 0.25, 0.5, 0.75, 1, 1.25, 1.5, 1.75], "labels": false, "title": null}}}},
        {"data": {"name": "spec"}, "mark": {"type": "line", "color": "#800080", "strokeWidth": 1.9, "clip": true}, "encoding": {"y": {"field": "v", "type": "quantitative", "scale": {"domain": [-0.2, 2.02], "nice": false, "zero": false}, "axis": {"values": [0, 0.25, 0.5, 0.75, 1, 1.25, 1.5, 1.75], "labels": false, "title": null}}}}
      ]
    }
  ],
  "config": {
    "view": {"stroke": "black", "strokeWidth": 1},
    "axis": {
      "domain": false,
      "grid": false,
      "ticks": true,
      "tickColor": "black",
      "tickSize": 5,
      "tickWidth": 1,
      "labelFont": "DejaVu Sans",
      "labelFontSize": 13.5,
      "labelColor": "black",
      "labelPadding": 4,
      "titleFont": "DejaVu Serif",
      "titleFontSize": 22,
      "titleFontWeight": "bold",
      "titleColor": "black"
    },
    "title": {
      "font": "DejaVu Serif",
      "fontSize": 17,
      "fontWeight": "bold",
      "anchor": "start",
      "frame": "group",
      "dx": 276,
      "offset": -39,
      "baseline": "alphabetic"
    },
    "line": {"strokeJoin": "round", "strokeCap": "round"}
  }
}
